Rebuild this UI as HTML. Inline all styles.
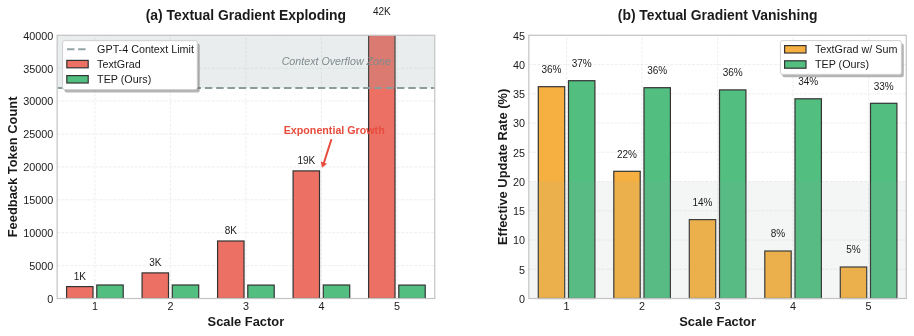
<!DOCTYPE html>
<html><head><meta charset="utf-8"><style>
html,body{margin:0;padding:0;background:#fff;width:914px;height:336px;overflow:hidden}
svg{display:block;filter:blur(0.35px)}
text{font-family:"Liberation Sans", sans-serif;fill:#1a1a1a}
.tk{font-size:10.8px}
.al{font-size:12.9px;font-weight:bold}
.ti{font-size:13.9px;font-weight:bold}
.bl{font-size:10px}
.lg{font-size:10.75px}
.cz{font-size:10.7px;font-style:italic;fill:#7f8c8d}
.eg{font-size:10.7px;font-weight:bold;fill:#e74c3c}
</style></head><body>
<svg width="914" height="336" viewBox="0 0 914 336">
<defs><clipPath id="cl"><rect x="57.15" y="35.3" width="377.6" height="264"/></clipPath></defs>
<line x1="94.9" y1="298.5" x2="94.9" y2="35.3" stroke="#ececec" stroke-width="0.9" stroke-dasharray="2.9 1.4"/>
<line x1="170.4" y1="298.5" x2="170.4" y2="35.3" stroke="#ececec" stroke-width="0.9" stroke-dasharray="2.9 1.4"/>
<line x1="245.9" y1="298.5" x2="245.9" y2="35.3" stroke="#ececec" stroke-width="0.9" stroke-dasharray="2.9 1.4"/>
<line x1="321.4" y1="298.5" x2="321.4" y2="35.3" stroke="#ececec" stroke-width="0.9" stroke-dasharray="2.9 1.4"/>
<line x1="396.9" y1="298.5" x2="396.9" y2="35.3" stroke="#ececec" stroke-width="0.9" stroke-dasharray="2.9 1.4"/>
<line x1="57.15" y1="298.5" x2="434.75" y2="298.5" stroke="#ececec" stroke-width="0.9" stroke-dasharray="2.9 1.4"/>
<line x1="57.15" y1="265.6" x2="434.75" y2="265.6" stroke="#ececec" stroke-width="0.9" stroke-dasharray="2.9 1.4"/>
<line x1="57.15" y1="232.7" x2="434.75" y2="232.7" stroke="#ececec" stroke-width="0.9" stroke-dasharray="2.9 1.4"/>
<line x1="57.15" y1="199.8" x2="434.75" y2="199.8" stroke="#ececec" stroke-width="0.9" stroke-dasharray="2.9 1.4"/>
<line x1="57.15" y1="166.9" x2="434.75" y2="166.9" stroke="#ececec" stroke-width="0.9" stroke-dasharray="2.9 1.4"/>
<line x1="57.15" y1="134" x2="434.75" y2="134" stroke="#ececec" stroke-width="0.9" stroke-dasharray="2.9 1.4"/>
<line x1="57.15" y1="101.1" x2="434.75" y2="101.1" stroke="#ececec" stroke-width="0.9" stroke-dasharray="2.9 1.4"/>
<line x1="57.15" y1="68.2" x2="434.75" y2="68.2" stroke="#ececec" stroke-width="0.9" stroke-dasharray="2.9 1.4"/>
<line x1="57.15" y1="35.3" x2="434.75" y2="35.3" stroke="#ececec" stroke-width="0.9" stroke-dasharray="2.9 1.4"/>
<rect x="66.59" y="286.6" width="26.42" height="11.9" fill="#ec7063" stroke="#333333" stroke-width="1.2" clip-path="url(#cl)"/>
<rect x="96.79" y="285" width="26.42" height="13.5" fill="#52be80" stroke="#333333" stroke-width="1.2" clip-path="url(#cl)"/>
<rect x="142.09" y="272.9" width="26.42" height="25.6" fill="#ec7063" stroke="#333333" stroke-width="1.2" clip-path="url(#cl)"/>
<rect x="172.29" y="285" width="26.42" height="13.5" fill="#52be80" stroke="#333333" stroke-width="1.2" clip-path="url(#cl)"/>
<rect x="217.59" y="241" width="26.42" height="57.5" fill="#ec7063" stroke="#333333" stroke-width="1.2" clip-path="url(#cl)"/>
<rect x="247.79" y="285.1" width="26.42" height="13.4" fill="#52be80" stroke="#333333" stroke-width="1.2" clip-path="url(#cl)"/>
<rect x="293.09" y="170.9" width="26.42" height="127.6" fill="#ec7063" stroke="#333333" stroke-width="1.2" clip-path="url(#cl)"/>
<rect x="323.29" y="285" width="26.42" height="13.5" fill="#52be80" stroke="#333333" stroke-width="1.2" clip-path="url(#cl)"/>
<rect x="368.59" y="20" width="26.42" height="278.5" fill="#ec7063" stroke="#333333" stroke-width="1.2" clip-path="url(#cl)"/>
<rect x="398.79" y="285.1" width="26.42" height="13.4" fill="#52be80" stroke="#333333" stroke-width="1.2" clip-path="url(#cl)"/>
<rect x="57.15" y="35.3" width="377.6" height="52.64" fill="#95a5a6" fill-opacity="0.2"/>
<line x1="57.15" y1="87.94" x2="434.75" y2="87.94" stroke="#8c9b9c" stroke-width="2" stroke-dasharray="7.5 3.8" stroke-dashoffset="-0.8"/>
<rect x="57.15" y="35.3" width="377.6" height="263.2" fill="none" stroke="#c4c4c4" stroke-width="1.2"/>
<text x="79.8" y="279.6" text-anchor="middle" class="bl">1K</text>
<text x="155.3" y="265.9" text-anchor="middle" class="bl">3K</text>
<text x="230.8" y="234" text-anchor="middle" class="bl">8K</text>
<text x="306.3" y="163.9" text-anchor="middle" class="bl">19K</text>
<text x="381.8" y="14.9" text-anchor="middle" class="bl">42K</text>
<text x="336.3" y="64.9" text-anchor="middle" class="cz">Context Overflow Zone</text>
<text x="334.2" y="134" text-anchor="middle" class="eg">Exponential Growth</text>
<line x1="331.2" y1="140.0" x2="324.0" y2="162.5" stroke="#e74c3c" stroke-width="2" stroke-linecap="round"/>
<path d="M322.0,167.8 L320.8,161.6 L327.0,163.8 Z" fill="#e74c3c"/>
<rect x="64.5" y="43.5" width="135.2" height="48.9" rx="2" fill="#4d4d4d" fill-opacity="0.42"/>
<rect x="62.6" y="40.7" width="134.7" height="48.9" rx="2" fill="#ffffff" stroke="#cccccc" stroke-width="0.9"/>
<line x1="67" y1="49.2" x2="85.7" y2="49.2" stroke="#95a5a6" stroke-width="2" stroke-dasharray="7.5 3.6"/>
<text x="97.1" y="53.1" class="lg">GPT-4 Context Limit</text>
<rect x="66.8" y="60.4" width="21.4" height="7.4" fill="#ec7063" stroke="#333333" stroke-width="1.2"/>
<text x="97.1" y="68" class="lg">TextGrad</text>
<rect x="66.8" y="75.6" width="21.4" height="7.4" fill="#52be80" stroke="#333333" stroke-width="1.2"/>
<text x="97.1" y="83.2" class="lg">TEP (Ours)</text>
<text x="53.35" y="302.8" text-anchor="end" class="tk">0</text>
<text x="53.35" y="269.9" text-anchor="end" class="tk">5000</text>
<text x="53.35" y="237" text-anchor="end" class="tk">10000</text>
<text x="53.35" y="204.1" text-anchor="end" class="tk">15000</text>
<text x="53.35" y="171.2" text-anchor="end" class="tk">20000</text>
<text x="53.35" y="138.3" text-anchor="end" class="tk">25000</text>
<text x="53.35" y="105.4" text-anchor="end" class="tk">30000</text>
<text x="53.35" y="72.5" text-anchor="end" class="tk">35000</text>
<text x="53.35" y="39.6" text-anchor="end" class="tk">40000</text>
<text x="94.9" y="309.8" text-anchor="middle" class="tk">1</text>
<text x="170.4" y="309.8" text-anchor="middle" class="tk">2</text>
<text x="245.9" y="309.8" text-anchor="middle" class="tk">3</text>
<text x="321.4" y="309.8" text-anchor="middle" class="tk">4</text>
<text x="396.9" y="309.8" text-anchor="middle" class="tk">5</text>
<text x="245.9" y="326" text-anchor="middle" class="al">Scale Factor</text>
<text transform="translate(16.7,166.9) rotate(-90)" text-anchor="middle" class="al">Feedback Token Count</text>
<text x="245.9" y="19.8" text-anchor="middle" class="ti">(a) Textual Gradient Exploding</text>
<line x1="566.6" y1="298.5" x2="566.6" y2="35.3" stroke="#ececec" stroke-width="0.9" stroke-dasharray="2.9 1.4"/>
<line x1="642.1" y1="298.5" x2="642.1" y2="35.3" stroke="#ececec" stroke-width="0.9" stroke-dasharray="2.9 1.4"/>
<line x1="717.6" y1="298.5" x2="717.6" y2="35.3" stroke="#ececec" stroke-width="0.9" stroke-dasharray="2.9 1.4"/>
<line x1="793.1" y1="298.5" x2="793.1" y2="35.3" stroke="#ececec" stroke-width="0.9" stroke-dasharray="2.9 1.4"/>
<line x1="868.6" y1="298.5" x2="868.6" y2="35.3" stroke="#ececec" stroke-width="0.9" stroke-dasharray="2.9 1.4"/>
<line x1="528.8" y1="298.5" x2="906.3" y2="298.5" stroke="#ececec" stroke-width="0.9" stroke-dasharray="2.9 1.4"/>
<line x1="528.8" y1="269.26" x2="906.3" y2="269.26" stroke="#ececec" stroke-width="0.9" stroke-dasharray="2.9 1.4"/>
<line x1="528.8" y1="240.01" x2="906.3" y2="240.01" stroke="#ececec" stroke-width="0.9" stroke-dasharray="2.9 1.4"/>
<line x1="528.8" y1="210.77" x2="906.3" y2="210.77" stroke="#ececec" stroke-width="0.9" stroke-dasharray="2.9 1.4"/>
<line x1="528.8" y1="181.52" x2="906.3" y2="181.52" stroke="#ececec" stroke-width="0.9" stroke-dasharray="2.9 1.4"/>
<line x1="528.8" y1="152.28" x2="906.3" y2="152.28" stroke="#ececec" stroke-width="0.9" stroke-dasharray="2.9 1.4"/>
<line x1="528.8" y1="123.03" x2="906.3" y2="123.03" stroke="#ececec" stroke-width="0.9" stroke-dasharray="2.9 1.4"/>
<line x1="528.8" y1="93.79" x2="906.3" y2="93.79" stroke="#ececec" stroke-width="0.9" stroke-dasharray="2.9 1.4"/>
<line x1="528.8" y1="64.54" x2="906.3" y2="64.54" stroke="#ececec" stroke-width="0.9" stroke-dasharray="2.9 1.4"/>
<line x1="528.8" y1="35.3" x2="906.3" y2="35.3" stroke="#ececec" stroke-width="0.9" stroke-dasharray="2.9 1.4"/>
<rect x="538.29" y="86.7" width="26.42" height="211.8" fill="#f5b041" stroke="#333333" stroke-width="1.2"/>
<rect x="568.49" y="80.7" width="26.42" height="217.8" fill="#52be80" stroke="#333333" stroke-width="1.2"/>
<rect x="613.79" y="171.3" width="26.42" height="127.2" fill="#f5b041" stroke="#333333" stroke-width="1.2"/>
<rect x="643.99" y="87.7" width="26.42" height="210.8" fill="#52be80" stroke="#333333" stroke-width="1.2"/>
<rect x="689.29" y="219.6" width="26.42" height="78.9" fill="#f5b041" stroke="#333333" stroke-width="1.2"/>
<rect x="719.49" y="89.9" width="26.42" height="208.6" fill="#52be80" stroke="#333333" stroke-width="1.2"/>
<rect x="764.79" y="251" width="26.42" height="47.5" fill="#f5b041" stroke="#333333" stroke-width="1.2"/>
<rect x="794.99" y="98.8" width="26.42" height="199.7" fill="#52be80" stroke="#333333" stroke-width="1.2"/>
<rect x="840.29" y="267" width="26.42" height="31.5" fill="#f5b041" stroke="#333333" stroke-width="1.2"/>
<rect x="870.49" y="103.3" width="26.42" height="195.2" fill="#52be80" stroke="#333333" stroke-width="1.2"/>
<rect x="528.8" y="181.52" width="377.5" height="116.98" fill="#95a5a6" fill-opacity="0.1"/>
<rect x="528.8" y="35.3" width="377.5" height="263.2" fill="none" stroke="#c4c4c4" stroke-width="1.2"/>
<text x="551.5" y="73" text-anchor="middle" class="bl">36%</text>
<text x="581.7" y="67" text-anchor="middle" class="bl">37%</text>
<text x="627" y="157.6" text-anchor="middle" class="bl">22%</text>
<text x="657.2" y="74" text-anchor="middle" class="bl">36%</text>
<text x="702.5" y="205.9" text-anchor="middle" class="bl">14%</text>
<text x="732.7" y="76.2" text-anchor="middle" class="bl">36%</text>
<text x="778" y="237.3" text-anchor="middle" class="bl">8%</text>
<text x="808.2" y="85.1" text-anchor="middle" class="bl">34%</text>
<text x="853.5" y="253.3" text-anchor="middle" class="bl">5%</text>
<text x="883.7" y="89.6" text-anchor="middle" class="bl">33%</text>
<rect x="782.3" y="43.4" width="121.5" height="33.8" rx="2" fill="#4d4d4d" fill-opacity="0.42"/>
<rect x="780.4" y="40.6" width="121" height="33.8" rx="2" fill="#ffffff" stroke="#cccccc" stroke-width="0.9"/>
<rect x="784.6" y="45.6" width="21.4" height="7.4" fill="#f5b041" stroke="#333333" stroke-width="1.2"/>
<text x="814.9" y="53.2" class="lg">TextGrad w/ Sum</text>
<rect x="784.6" y="60.8" width="21.4" height="7.4" fill="#52be80" stroke="#333333" stroke-width="1.2"/>
<text x="814.9" y="68.4" class="lg">TEP (Ours)</text>
<text x="525" y="302.8" text-anchor="end" class="tk">0</text>
<text x="525" y="273.56" text-anchor="end" class="tk">5</text>
<text x="525" y="244.31" text-anchor="end" class="tk">10</text>
<text x="525" y="215.07" text-anchor="end" class="tk">15</text>
<text x="525" y="185.82" text-anchor="end" class="tk">20</text>
<text x="525" y="156.58" text-anchor="end" class="tk">25</text>
<text x="525" y="127.33" text-anchor="end" class="tk">30</text>
<text x="525" y="98.09" text-anchor="end" class="tk">35</text>
<text x="525" y="68.84" text-anchor="end" class="tk">40</text>
<text x="525" y="39.6" text-anchor="end" class="tk">45</text>
<text x="566.6" y="309.8" text-anchor="middle" class="tk">1</text>
<text x="642.1" y="309.8" text-anchor="middle" class="tk">2</text>
<text x="717.6" y="309.8" text-anchor="middle" class="tk">3</text>
<text x="793.1" y="309.8" text-anchor="middle" class="tk">4</text>
<text x="868.6" y="309.8" text-anchor="middle" class="tk">5</text>
<text x="717.6" y="326" text-anchor="middle" class="al">Scale Factor</text>
<text transform="translate(506.5,166.9) rotate(-90)" text-anchor="middle" class="al">Effective Update Rate (%)</text>
<text x="717.6" y="19.8" text-anchor="middle" class="ti">(b) Textual Gradient Vanishing</text>
</svg>
</body></html>
